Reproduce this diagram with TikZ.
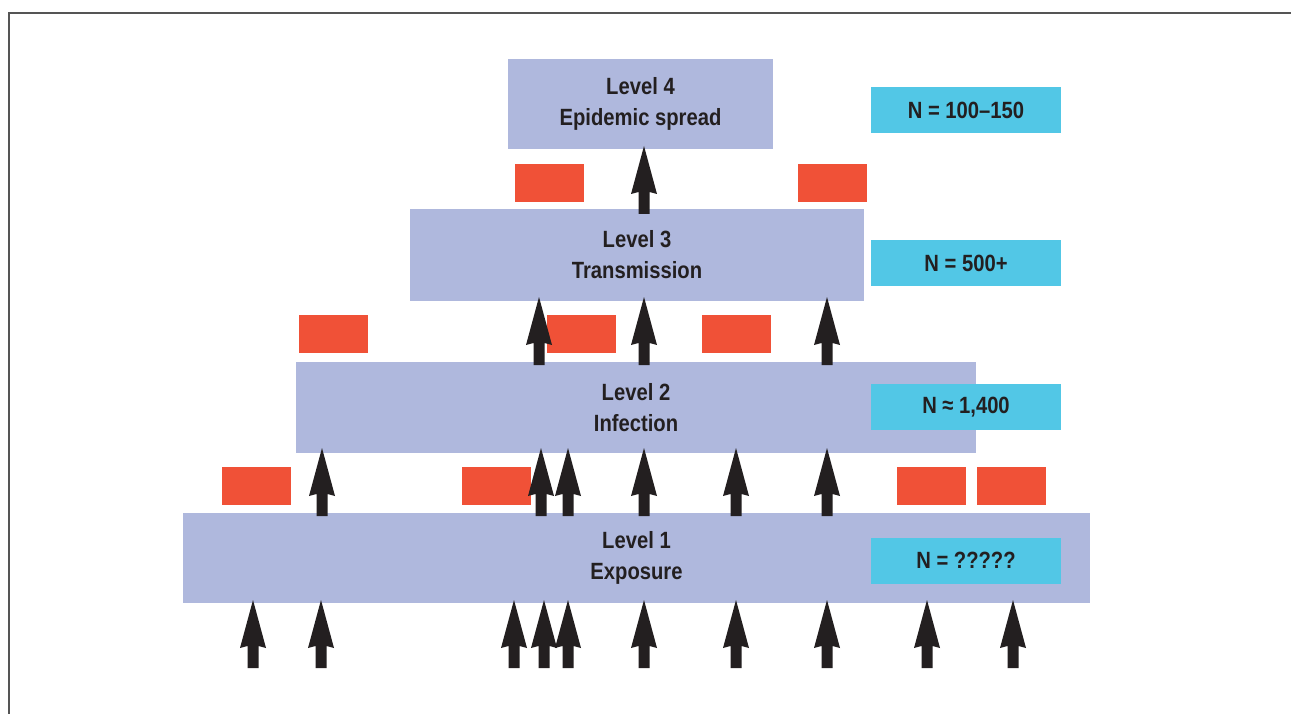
\documentclass[tikz,border=0pt]{standalone}
\usepackage{fontspec}
\setmainfont{Liberation Sans}[FakeStretch=0.86]
\definecolor{lav}{HTML}{AFB8DD}
\definecolor{cyanbox}{HTML}{52C7E6}
\definecolor{redbox}{HTML}{F05137}
\definecolor{ink}{HTML}{231F20}
\definecolor{frame}{HTML}{555555}
\tikzset{
  levelbox/.style={fill=lav, draw=none, inner sep=0pt, align=center, text=ink,
    font=\fontsize{23.5}{31}\selectfont\bfseries},
  countbox/.style={fill=cyanbox, draw=none, inner sep=0pt, minimum width=190, minimum height=46,
    text=ink, font=\fontsize{23.5}{31}\selectfont\bfseries},
  redblock/.style={fill=redbox, draw=none, inner sep=0pt, minimum width=69, minimum height=38},
  pics/uparrow/.style={code={
    \fill[ink] (0,0) -- (13,48) -- (5.5,46) -- (5.5,68) -- (-5.5,68) -- (-5.5,46) -- (-13,48) -- cycle;
  }}
}
\begin{document}
\begin{tikzpicture}[x=1pt,y=-1pt]
\useasboundingbox (0,0) rectangle (1291,714);
\fill[white] (0,0) rectangle (1291,714);
\draw[frame, line width=2] (9,714) -- (9,13) -- (1291,13);

% level boxes
\node[levelbox, minimum width=907, minimum height=90] (L1) at (636.5,558) {Level 1\\Exposure};
\node[levelbox, minimum width=680, minimum height=91] (L2) at (636,407.5) {Level 2\\Infection};
\node[levelbox, minimum width=454, minimum height=91] (L3) at (637,255) {Level 3\\Transmission};
\node[levelbox, minimum width=265, minimum height=90] (L4) at (640.5,104) {Level 4\\Epidemic spread};

% count boxes
\node[countbox] (N4) at (966,110) {N = 100–150};
\node[countbox] (N3) at (966,263) {N = 500+};
\node[countbox] (N2) at (966,407) {N ≈ 1,400};
\node[countbox] (N1) at (966,560.5) {N = ?????};

% red blocks
\node[redblock] (r41) at (549.5,183) {};
\node[redblock] (r42) at (832.5,183) {};
\node[redblock] (r31) at (333.5,334) {};
\node[redblock] (r32) at (581.5,334) {};
\node[redblock] (r33) at (736.5,334) {};
\node[redblock] (r21) at (256.5,486) {};
\node[redblock] (r22) at (496.5,486) {};
\node[redblock] (r23) at (931.5,486) {};
\node[redblock] (r24) at (1011.5,486) {};

% arrows below level 1
\foreach \x in {253,321,514,544,568,644,736,827,927,1013}
  \pic at (\x,600) {uparrow};
% arrows between level 1 and 2
\foreach \x in {322,541,568,644,736,827}
  \pic at (\x,448) {uparrow};
% arrows between level 2 and 3
\foreach \x in {539,644,827}
  \pic at (\x,297) {uparrow};
% arrow between level 3 and 4
\pic at (644,146) {uparrow};
\end{tikzpicture}
\end{document}
